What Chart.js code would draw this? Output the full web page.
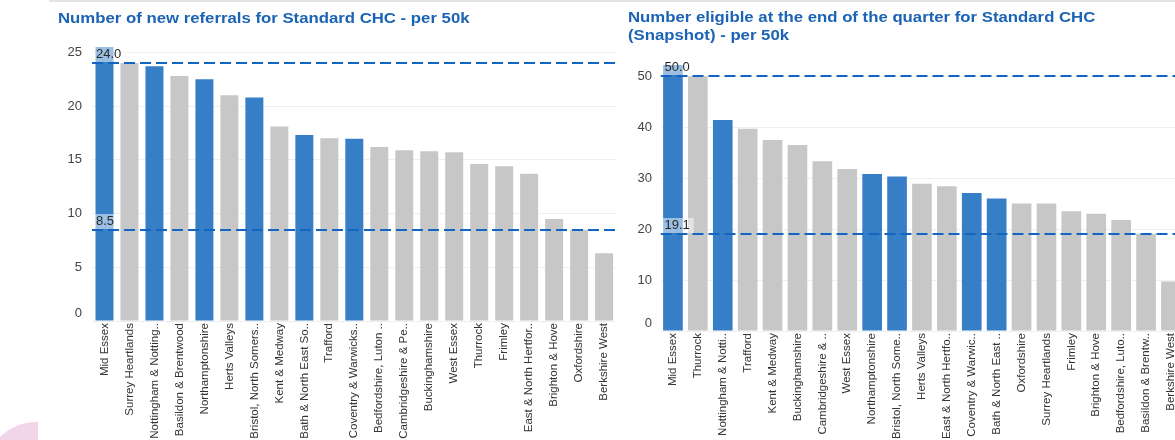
<!DOCTYPE html>
<html>
<head>
<meta charset="utf-8">
<script src="https://cdn.jsdelivr.net/npm/chart.js@4/dist/chart.umd.min.js"></script>
<style>
  html, body { margin: 0; padding: 0; background: #fff; overflow: hidden; width: 1175px; height: 440px; }
  #topbar { position: absolute; left: 49px; top: 0; width: 1126px; height: 2px; background: #e4e4e4; }
  #pinkwrap { position: absolute; left: 0; top: 380px; width: 38px; height: 60px; overflow: hidden; }
  #pink { position: absolute; left: -16px; top: 42px; width: 106px; height: 106px; border-radius: 50%; background: #f1d5e8; }
  #w1 { position: absolute; left: 50px; top: 0; width: 575px; height: 440px; }
  #w2 { position: absolute; left: 620px; top: 0; width: 575px; height: 440px; }
  .title { position: absolute; font-family: 'Liberation Sans', Arial, sans-serif; font-weight: bold; font-size: 15px;
           line-height: 18px; color: #1b63b5; white-space: nowrap; transform: scaleX(1.117); transform-origin: 0 0; z-index: 2; }
  #t1 { left: 58px; top: 9px; }
  #t2 { left: 628px; top: 8px; }
</style>
</head>
<body>
<div id="topbar"></div>
<div id="pinkwrap"><div id="pink"></div></div>
<div id="w1"><canvas id="c1" width="575" height="440"></canvas></div>
<div id="w2"><canvas id="c2" width="575" height="440"></canvas></div>
<div class="title" id="t1"></div>
<div class="title" id="t2"></div>
<script>
// ---- Left chart data ----
const leftTitle = ["Number of new referrals for Standard CHC - per 50k"];
const leftCategories = ["Mid Essex","Surrey Heartlands","Nottingham & Notting..","Basildon & Brentwood","Northamptonshire","Herts Valleys","Bristol, North Somers..","Kent & Medway","Bath & North East So..","Trafford","Coventry & Warwicks..","Bedfordshire, Luton ..","Cambridgeshire & Pe..","Buckinghamshire","West Essex","Thurrock","Frimley","East & North Hertfor..","Brighton & Hove","Oxfordshire","Berkshire West"];
const leftValues = [25.5, 24.0, 23.7, 22.8, 22.5, 21.0, 20.8, 18.1, 17.3, 17.0, 16.95, 16.2, 15.9, 15.8, 15.7, 14.6, 14.4, 13.7, 9.5, 8.5, 6.3];
const leftHighlight = [1,0,1,0,1,0,1,0,1,0,1,0,0,0,0,0,0,0,0,0,0];
const leftRefLines = [24.0, 8.5];
const leftTicks = [0, 5, 10, 15, 20, 25];

// ---- Right chart data ----
const rightTitle = ["Number eligible at the end of the quarter for Standard CHC", "(Snapshot) - per 50k"];
const rightCategories = ["Mid Essex","Thurrock","Nottingham & Notti..","Trafford","Kent & Medway","Buckinghamshire","Cambridgeshire & ..","West Essex","Northamptonshire","Bristol, North Some..","Herts Valleys","East & North Hertfo..","Coventry & Warwic..","Bath & North East ..","Oxfordshire","Surrey Heartlands","Frimley","Brighton & Hove","Bedfordshire, Luto..","Basildon & Brentw..","Berkshire West"];
const rightValues = [52.2, 50.0, 41.4, 39.7, 37.5, 36.5, 33.3, 31.8, 30.8, 30.3, 28.9, 28.4, 27.1, 26.0, 25.0, 25.0, 23.5, 23.0, 21.8, 19.1, 9.7];
const rightHighlight = [1,0,1,0,0,0,0,0,1,1,0,0,1,1,0,0,0,0,0,0,0];
const rightRefLines = [50.0, 19.1];
const rightTicks = [0, 10, 20, 30, 40, 50];

function setTitle(id, lines) {
  const el = document.getElementById(id);
  lines.forEach((l, i) => {
    if (i) el.appendChild(document.createElement('br'));
    el.appendChild(document.createTextNode(l));
  });
}
setTitle('t1', leftTitle);
setTitle('t2', rightTitle);

const BLUE = '#367fc6';
const GREY = '#c6c7c6';
const LINE = '#1464c0';
const FONT = "'Liberation Sans', Arial, sans-serif";

const refLinePlugin = {
  id: 'refLines',
  afterDatasetsDraw(chart, args, opts) {
    const {ctx, chartArea} = chart;
    const y = chart.scales.y;
    (opts.values || []).forEach(v => {
      const py = Math.round(y.getPixelForValue(v));
      ctx.save();
      ctx.beginPath();
      ctx.rect(chartArea.left, chartArea.top, chartArea.right - chartArea.left, chartArea.bottom - chartArea.top);
      ctx.clip();
      ctx.strokeStyle = LINE;
      ctx.lineWidth = 2;
      ctx.setLineDash([11, 5]);
      ctx.beginPath();
      ctx.moveTo(chartArea.left, py);
      ctx.lineTo(chartArea.right, py);
      ctx.stroke();
      ctx.setLineDash([]);
      const txt = v.toFixed(1);
      ctx.font = '13px ' + FONT;
      const w = ctx.measureText(txt).width;
      const bx = chartArea.left + 2, bh = 15;
      ctx.fillStyle = 'rgba(255,255,255,0.5)';
      ctx.fillRect(bx, py - 1 - bh, w + 6, bh);
      ctx.restore();
      ctx.save();
      ctx.font = '13px ' + FONT;
      ctx.fillStyle = '#2a2a2a';
      ctx.textBaseline = 'middle';
      ctx.textAlign = 'left';
      ctx.fillText(txt, bx + 2, py - 1 - bh / 2);
      ctx.restore();
    });
  }
};

function makeChart(id, cats, vals, hl, refs, ticks, cfg) {
  return new Chart(document.getElementById(id), {
    type: 'bar',
    data: {
      labels: cats,
      datasets: [{
        data: vals,
        backgroundColor: hl.map(h => h ? BLUE : GREY),
        borderWidth: 0,
        barPercentage: cfg.barPct,
        categoryPercentage: 1.0
      }]
    },
    options: {
      responsive: false,
      animation: false,
      devicePixelRatio: 1,
      layout: { padding: { left: 8, right: cfg.padRight, top: cfg.padTop, bottom: 0 } },
      plugins: {
        legend: { display: false },
        tooltip: { enabled: false },
        title: { display: false },
        refLines: { values: refs }
      },
      scales: {
        x: {
          grid: { display: false, drawTicks: false },
          border: { display: false },
          ticks: {
            autoSkip: false,
            maxRotation: 90,
            minRotation: 90,
            padding: 2,
            color: '#333',
            font: { family: FONT, size: 11.5 }
          },
          afterFit(scale) { scale.height = cfg.xHeight; }
        },
        y: {
          min: 0,
          max: cfg.yMax,
          afterBuildTicks(scale) { scale.ticks = ticks.map(v => ({ value: v })); },
          grid: { color: '#efefef', lineWidth: 1, drawTicks: false },
          border: { display: false },
          ticks: {
            padding: cfg.yPad,
            color: '#444',
            font: { family: FONT, size: 13 },
            // the zero label sits slightly above the baseline in the original
            callback: (v) => v === 0 ? ['0', ''] : String(v)
          },
          afterFit(scale) { scale.width = cfg.yWidth; }
        }
      }
    },
    plugins: [refLinePlugin]
  });
}

makeChart('c1', leftCategories, leftValues, leftHighlight, leftRefLines, leftTicks, {
  barPct: 0.72, padRight: 8.4, padTop: 47,
  xHeight: 119, yMax: 25.5, yPad: 10, yWidth: 34
});
makeChart('c2', rightCategories, rightValues, rightHighlight, rightRefLines, rightTicks, {
  barPct: 0.79, padRight: 11.6, padTop: 65,
  xHeight: 109, yMax: 52.2, yPad: 8.5, yWidth: 32.5
});
</script>
</body>
</html>
